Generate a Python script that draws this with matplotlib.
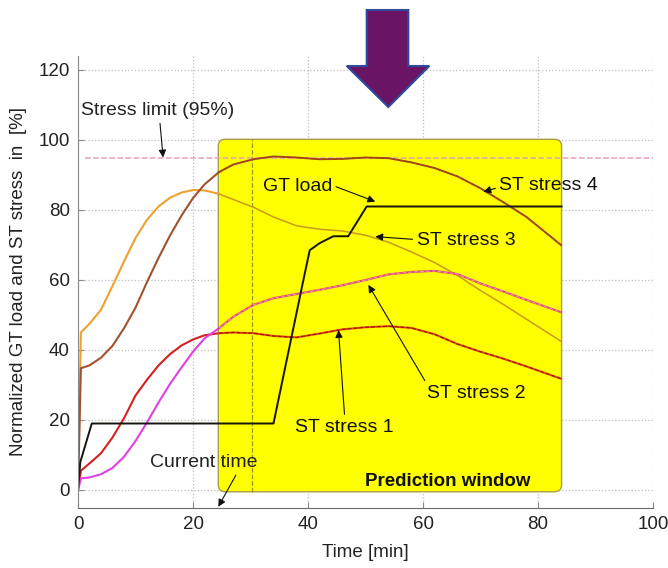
import matplotlib.pyplot as plt
from matplotlib.patches import FancyBboxPatch, Polygon

plt.rcParams['font.family'] = ['Liberation Sans', 'DejaVu Sans']

# measured part (up to current time)
t_hist = [0, 0.5, 2, 4, 6, 8, 10, 12, 14, 16, 18, 20, 22, 24.5]
stress1_hist = [0, 5.5, 7.6, 10.5, 15, 20.5, 27, 31.5, 35.6, 38.8, 41.3, 43, 44.2, 44.8]
stress2_hist = [0, 3.3, 3.6, 4.5, 6.3, 9.5, 14, 19.3, 25, 30.3, 35, 39.5, 43.3, 46.2]
stress3_hist = [0, 45, 47.5, 51.5, 58.3, 65.3, 72, 77.2, 81, 83.5, 85, 85.7, 85.6, 84.6]
stress4_hist = [0, 34.8, 35.6, 37.8, 41.2, 46.2, 52.1, 59.4, 66.3, 72.7, 78.4, 83.4, 87.3, 90.8]

# predicted part
t_pred = [24.5, 27, 30.5, 34, 38, 42, 46, 50, 54, 58, 62, 66, 70, 74, 78, 84]
stress1_pred = [44.8, 45, 44.8, 44, 43.6, 44.7, 45.9, 46.5, 46.8, 46.3, 44.5, 41.7, 39.5, 37.5, 35.3, 31.8]
stress2_pred = [46.2, 49.5, 52.9, 54.8, 56, 57.2, 58.5, 60, 61.6, 62.3, 62.6, 61.7, 59, 56.7, 54.3, 50.8]
stress3_pred = [84.6, 83, 80.8, 78, 75.5, 74.5, 74, 72.8, 70.8, 68, 65, 61.3, 57, 53, 48.8, 42.5]
stress4_pred = [90.8, 93, 94.5, 95.3, 95, 94.5, 94.6, 95, 94.8, 93.6, 92, 89.6, 86.2, 82.2, 78, 70]

# GT load
gt_t = [0, 0.4, 2.4, 34, 39.2, 40.3, 42, 44.4, 47, 50.2, 84.1]
gt_load = [0, 8, 19, 19, 60, 68.5, 70.5, 72.5, 72.5, 81, 81]

stress_limit = 95
t_now = 30.3
win_start, win_end = 24.4, 84.1
win_bottom, win_top = -0.5, 100.2

fig = plt.figure(figsize=(6.68, 5.68), dpi=100)
ax = fig.add_axes([78 / 668, 1 - 507.5 / 568, 575 / 668, 451.5 / 568])

ax.set_xlim(0, 100)
ax.set_ylim(-5, 124)
ax.set_xticks(range(0, 101, 20))
ax.set_yticks(range(0, 121, 20))
ax.set_axisbelow(True)
ax.grid(True, linestyle=':', color='#bdbdbd', linewidth=0.9)
for s in ['top', 'right']:
    ax.spines[s].set_visible(False)
ax.spines['left'].set_color('#8a8a8a')
ax.spines['bottom'].set_color('#6a6a6a')
ax.tick_params(direction='in', length=4, color='#8a8a8a', labelsize=13.5,
               labelcolor='#222222', pad=6)

ax.set_xlabel('Time [min]', fontsize=13.5, color='#222222', labelpad=8)
ax.set_ylabel('Normalized GT load and ST stress  in  [%]', fontsize=13.5,
              color='#222222', labelpad=8)

# prediction window
win = FancyBboxPatch((win_start, win_bottom), win_end - win_start, win_top - win_bottom,
                     boxstyle='round,pad=0,rounding_size=1.2', mutation_aspect=1.64,
                     facecolor='#ffff00', edgecolor='#a8a040', linewidth=1, zorder=1.5)
ax.add_patch(win)
ax.plot([t_now, t_now], [win_bottom, win_top], linestyle='--', color='#9a9a10',
        linewidth=0.9, zorder=1.6)

# stress limit
ax.axhline(stress_limit, xmin=0.012, color='#e8a2b4', linestyle='--', linewidth=1.1, zorder=1.7)

# history curves
ax.plot(t_hist, stress3_hist, color='#f0a030', linewidth=1.5, zorder=2)
ax.plot(t_hist, stress4_hist, color='#a0522d', linewidth=1.5, zorder=2)
ax.plot(t_hist, stress1_hist, color='#d42020', linewidth=1.5, zorder=2)
ax.plot(t_hist, stress2_hist, color='#e040e0', linewidth=1.5, zorder=2)

# predicted curves
ax.plot(t_pred, stress3_pred, color='#c89a20', linewidth=1.1, zorder=2)
ax.plot(t_pred, stress4_pred, color='#8a5a18', linewidth=1.4, zorder=2)
ax.plot(t_pred, stress4_pred, color='#c03020', linewidth=0.8, linestyle='--', zorder=2.1)
ax.plot(t_pred, stress2_pred, color='#e0407a', linewidth=1.5, zorder=2)
ax.plot(t_pred, stress2_pred, color='#f090a0', linewidth=0.8, linestyle='--', zorder=2.1)
ax.plot(t_pred, stress1_pred, color='#e05010', linewidth=1.5, zorder=2)
ax.plot(t_pred, stress1_pred, color='#a01010', linewidth=0.8, linestyle='--', zorder=2.1)

ax.plot(gt_t, gt_load, color='#151510', linewidth=1.4, zorder=2.2)

# annotations
arrow = dict(arrowstyle='-|>', color='#111111', lw=0.8, mutation_scale=11,
             shrinkA=1, shrinkB=0)
fs = 14
ax.annotate('Stress limit (95%)', xy=(14.8, stress_limit), xytext=(0.6, 108.4),
            fontsize=fs, va='center', ha='left', color='#222222',
            arrowprops=dict(arrow, relpos=(0.51, 0)), zorder=5)
ax.annotate('GT load', xy=(51.7, 82.4), xytext=(32.1, 86.6),
            fontsize=fs, va='center', ha='left', color='#111111',
            arrowprops=dict(arrow, relpos=(1, 0.6)), zorder=5)
ax.annotate('ST stress 4', xy=(70.5, 85.2), xytext=(73.3, 87.0),
            fontsize=fs, va='center', ha='left', color='#111111',
            arrowprops=dict(arrow, relpos=(0, 0.4)), zorder=5)
ax.annotate('ST stress 3', xy=(51.7, 72.4), xytext=(58.9, 71.3),
            fontsize=fs, va='center', ha='left', color='#111111',
            arrowprops=dict(arrow, relpos=(0, 0.55)), zorder=5)
ax.annotate('ST stress 2', xy=(50.5, 58.6), xytext=(69.3, 27.7),
            fontsize=fs, va='center', ha='center', color='#111111',
            arrowprops=dict(arrow, relpos=(0.0, 1.0)), zorder=5)
ax.annotate('ST stress 1', xy=(45.3, 45.7), xytext=(46.4, 18.0),
            fontsize=fs, va='center', ha='center', color='#111111',
            arrowprops=dict(arrow, relpos=(0.5, 1.0)), zorder=5)
ax.annotate('Current time', xy=(24.4, -4.8), xytext=(12.5, 7.8),
            fontsize=fs, va='center', ha='left', color='#222222',
            arrowprops=dict(arrow, relpos=(0.82, 0)), zorder=5, annotation_clip=False)
ax.text(64.3, 2.4, 'Prediction window', fontsize=13.5, fontweight='bold',
        ha='center', va='center', color='#111111', zorder=5)

# big purple arrow above the plot
px = [366.7, 408.3, 408.3, 429.3, 388.3, 346.7, 366.7, 366.7]
py = [10, 10, 66, 66, 107, 66, 66, 10]
big = Polygon([(x / 668, 1 - y / 568) for x, y in zip(px, py)], closed=True,
              transform=fig.transFigure, facecolor='#6a1466', edgecolor='#2e4b9b',
              linewidth=1.5, zorder=10)
fig.patches.append(big)

fig.savefig('out.png', dpi=100)
